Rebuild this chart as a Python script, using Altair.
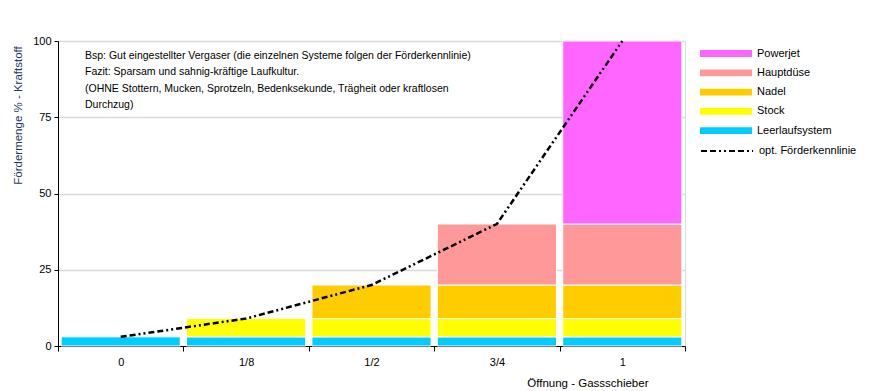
import altair as alt
import pandas as pd

categories = ["0", "1/8", "1/2", "3/4", "1"]
leerlauf = [3, 3, 3, 3, 3]
stock = [0, 6, 6, 6, 6]
nadel = [0, 0, 11, 11, 11]
hauptduese = [0, 0, 0, 20, 20]
powerjet = [0, 0, 0, 0, 60]
kennlinie = [3, 9, 20, 40, 100]

series_names = ["Powerjet", "Hauptdüse", "Nadel", "Stock", "Leerlaufsystem"]
series_colors = ["#FF66FF", "#FF9999", "#FFCC00", "#FFFF00", "#00CCFF"]
series_values = {
    "Leerlaufsystem": leerlauf,
    "Stock": stock,
    "Nadel": nadel,
    "Hauptdüse": hauptduese,
    "Powerjet": powerjet,
}
stack_order = {"Leerlaufsystem": 0, "Stock": 1, "Nadel": 2, "Hauptdüse": 3, "Powerjet": 4}
line_name = "opt. Förderkennlinie"

note_lines = [
    "Bsp: Gut eingestellter Vergaser (die einzelnen Systeme folgen der Förderkennlinie)",
    "Fazit: Sparsam und sahnig-kräftige Laufkultur.",
    "(OHNE Stottern, Mucken, Sprotzeln, Bedenksekunde, Trägheit oder kraftlosen",
    "Durchzug)",
]

rows = []
for name, vals in series_values.items():
    for c, v in zip(categories, vals):
        if v > 0:
            rows.append({"Kategorie": c, "System": name, "Wert": v, "ord": stack_order[name]})
bars_df = pd.DataFrame(rows)
line_df = pd.DataFrame({"Kategorie": categories, "Wert": kennlinie, "Linie": line_name})
note_df = pd.DataFrame({"text": ["\n".join(note_lines)]})

FONT = "Liberation Sans"

x_enc = alt.X(
    "Kategorie:N",
    sort=categories,
    scale=alt.Scale(paddingInner=0, paddingOuter=0),
    axis=alt.Axis(
        title="Öffnung - Gassschieber",
        labelAngle=0,
        tickBand="extent",
        tickSize=5,
        tickColor="#000000",
        domainColor="#000000",
        labelPadding=5,
        labelFontSize=11,
        labelFont=FONT,
        labelColor="#000000",
        titleFont=FONT,
        titleFontSize=11.5,
        titleFontWeight="normal",
        titleColor="#000000",
        titleAnchor="end",
        titleAlign="right",
        titleX=590,
        titleY=37,
        titleBaseline="middle",
    ),
)

y_scale = alt.Scale(domain=[0, 100])
y_axis = alt.Axis(
    title="Fördermenge % - Kraftstoff",
    values=[0, 25, 50, 75, 100],
    tickSize=4,
    tickColor="#000000",
    domainColor="#000000",
    labelPadding=3,
    labelFontSize=11,
    labelFont=FONT,
    labelColor="#000000",
    titleFont=FONT,
    titleFontSize=11.5,
    titleFontWeight="normal",
    titleColor="#1F3864",
    titleX=-40,
    titleY=74,
    titleAngle=270,
    titleAlign="center",
    titleBaseline="middle",
    gridColor="#D9D9D9",
    gridWidth=1.5,
)

bars = alt.Chart(bars_df).mark_bar(
    width=alt.RelativeBandSize(0.95), stroke="white", strokeWidth=1
).encode(
    x=x_enc,
    y=alt.Y("Wert:Q", stack="zero", scale=y_scale, axis=y_axis),
    color=alt.Color(
        "System:N",
        scale=alt.Scale(domain=series_names, range=series_colors),
        legend=alt.Legend(
            title=None,
            orient="none",
            legendX=661.5,
            legendY=6,
            symbolType="M-4,-0.52H4V0.52H-4Z",
            symbolSize=169,
            symbolStrokeWidth=0,
            labelFont=FONT,
            labelFontSize=11,
            labelColor="#000000",
            rowPadding=7.3,
            labelOffset=24.5,
        ),
    ),
    order=alt.Order("ord:Q"),
)

line = alt.Chart(line_df).mark_line(color="black", strokeWidth=2.5).encode(
    x=alt.X("Kategorie:N", sort=categories),
    y=alt.Y("Wert:Q", scale=y_scale),
    strokeDash=alt.StrokeDash(
        "Linie:N",
        scale=alt.Scale(domain=[line_name], range=[[6, 3, 6, 3, 2, 3, 2, 3]]),
        legend=alt.Legend(
            title=None,
            orient="none",
            legendX=661.5,
            legendY=102.5,
            symbolType="M-4,0H4",
            symbolSize=169,
            symbolStrokeColor="black",
            symbolStrokeWidth=2,
            labelFont=FONT,
            labelFontSize=11,
            labelColor="#000000",
            labelOffset=24.5,
        ),
    ),
)

note = alt.Chart(note_df).mark_text(
    align="left", baseline="top", font=FONT, fontSize=10.5, lineBreak="\n",
    lineHeight=16.3, color="#000000"
).encode(x=alt.value(27), y=alt.value(10), text="text:N")

chart = alt.layer(bars, line, note).properties(
    width=627,
    height=305,
    autosize=alt.AutoSizeParams(type="none"),
    padding={"left": 50, "top": 33, "right": 175, "bottom": 45},
).configure_view(stroke="#D9D9D9").resolve_scale(strokeDash="independent")

chart.save("out.html", embed_options={"renderer": "svg", "actions": False})
